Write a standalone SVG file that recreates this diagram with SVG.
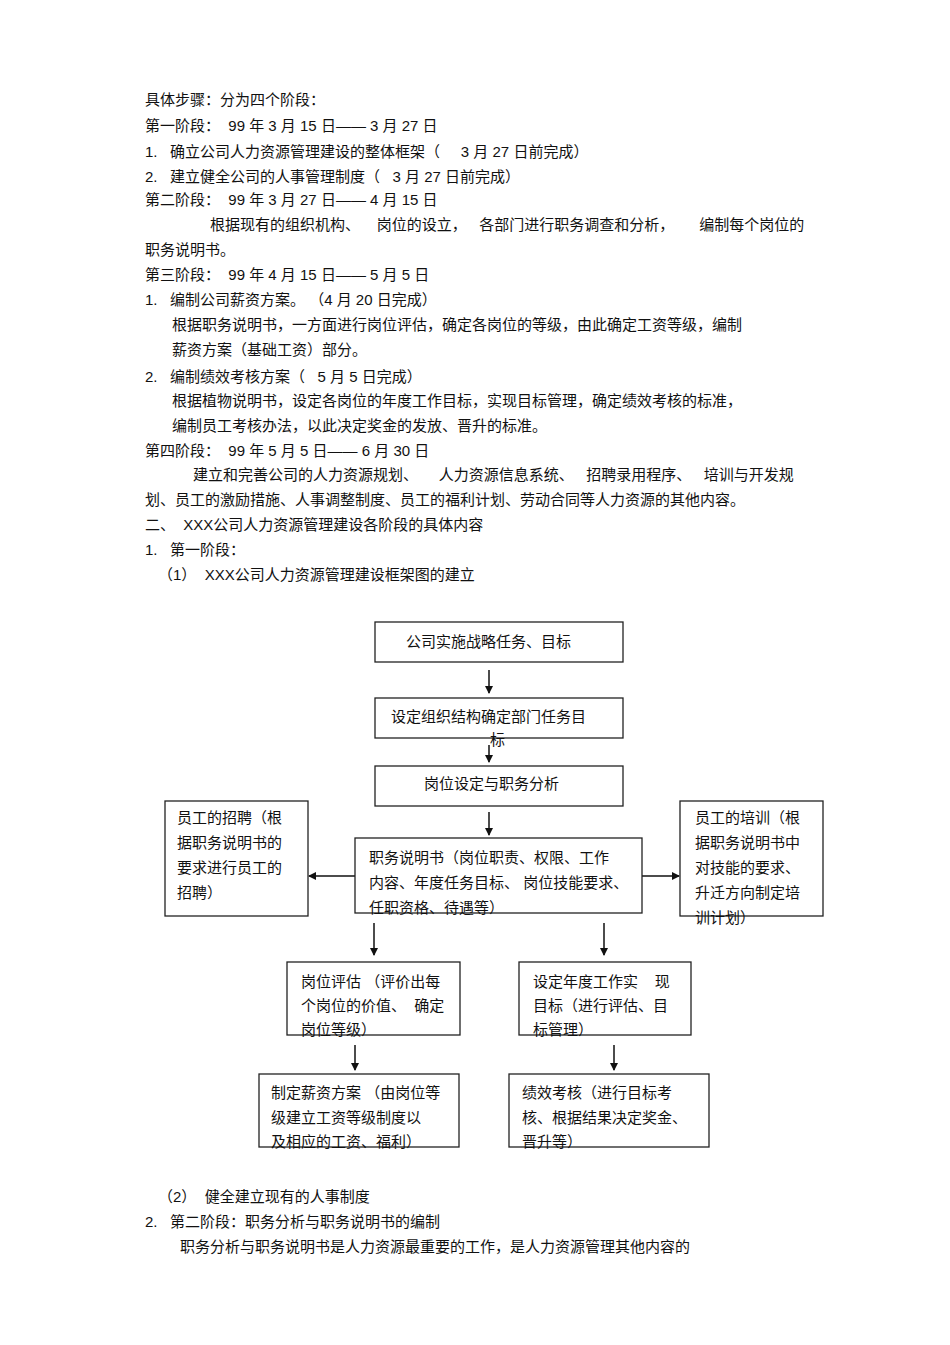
<svg xmlns="http://www.w3.org/2000/svg" width="950" height="1345" viewBox="0 0 950 1345" xml:space="preserve">
<defs>
<style>
text{font-family:"Liberation Sans","Noto Sans CJK SC",sans-serif;font-size:15px;fill:#111;white-space:pre}
.b{fill:#fff;stroke:#222;stroke-width:1.3}
.c line{stroke:#111;stroke-width:1.5}
</style>
<marker id="a" markerWidth="8" markerHeight="8" refX="7" refY="4" orient="auto" markerUnits="userSpaceOnUse"><path d="M0,0 L8,4 L0,8 Z" fill="#111"/></marker>
</defs>
<rect width="950" height="1345" fill="#fff"/>
<g id="body">
<text x="145" y="105">具体步骤：分为四个阶段：</text>
<text x="145" y="131">第一阶段：  99 年 3 月 15 日—— 3 月 27 日</text>
<text x="145" y="157">1.   确立公司人力资源管理建设的整体框架（     3 月 27 日前完成）</text>
<text x="145" y="182">2.   建立健全公司的人事管理制度（   3 月 27 日前完成）</text>
<text x="145" y="205">第二阶段：  99 年 3 月 27 日—— 4 月 15 日</text>
<text x="210" y="230">根据现有的组织机构、    岗位的设立，   各部门进行职务调查和分析，      编制每个岗位的</text>
<text x="145" y="255">职务说明书。</text>
<text x="145" y="280">第三阶段：  99 年 4 月 15 日—— 5 月 5 日</text>
<text x="145" y="305">1.   编制公司薪资方案。 （4 月 20 日完成）</text>
<text x="172" y="330">根据职务说明书，一方面进行岗位评估，确定各岗位的等级，由此确定工资等级，编制</text>
<text x="172" y="355">薪资方案（基础工资）部分。</text>
<text x="145" y="382">2.   编制绩效考核方案（   5 月 5 日完成）</text>
<text x="172" y="406">根据植物说明书，设定各岗位的年度工作目标，实现目标管理，确定绩效考核的标准，</text>
<text x="172" y="431">编制员工考核办法，以此决定奖金的发放、晋升的标准。</text>
<text x="145" y="456">第四阶段：  99 年 5 月 5 日—— 6 月 30 日</text>
<text x="193" y="480">建立和完善公司的人力资源规划、     人力资源信息系统、   招聘录用程序、   培训与开发规</text>
<text x="145" y="505">划、员工的激励措施、人事调整制度、员工的福利计划、劳动合同等人力资源的其他内容。</text>
<text x="145" y="530">二、  XXX公司人力资源管理建设各阶段的具体内容</text>
<text x="145" y="555">1.   第一阶段：</text>
<text x="158" y="580">（1）  XXX公司人力资源管理建设框架图的建立</text>
<text x="158" y="1202">（2）  健全建立现有的人事制度</text>
<text x="145" y="1227">2.   第二阶段：职务分析与职务说明书的编制</text>
<text x="180" y="1252">职务分析与职务说明书是人力资源最重要的工作，是人力资源管理其他内容的</text>
</g>
<g id="connectors" class="c">
<line x1="489" y1="670" x2="489" y2="693" marker-end="url(#a)"/>
<line x1="489" y1="745" x2="489" y2="762" marker-end="url(#a)"/>
<line x1="489" y1="812" x2="489" y2="835" marker-end="url(#a)"/>
<line x1="355" y1="876" x2="309" y2="876" marker-end="url(#a)"/>
<line x1="642" y1="876" x2="679" y2="876" marker-end="url(#a)"/>
<line x1="374" y1="923" x2="374" y2="955" marker-end="url(#a)"/>
<line x1="604" y1="923" x2="604" y2="955" marker-end="url(#a)"/>
<line x1="355" y1="1045" x2="355" y2="1070" marker-end="url(#a)"/>
<line x1="614" y1="1045" x2="614" y2="1070" marker-end="url(#a)"/>
</g>
<g id="n1"><rect class="b" x="375" y="622" width="248" height="40"/><text x="406" y="647">公司实施战略任务、目标</text></g>
<g id="n2"><rect class="b" x="375" y="698" width="248" height="40"/><text x="391" y="722">设定组织结构确定部门任务目</text><text x="490" y="745">标</text></g>
<g id="n3"><rect class="b" x="375" y="766" width="248" height="40"/><text x="424" y="789">岗位设定与职务分析</text></g>
<g id="n4"><rect class="b" x="355" y="838" width="287" height="75"/><text x="369" y="863">职务说明书（岗位职责、权限、工作</text><text x="369" y="888">内容、年度任务目标、 岗位技能要求、</text><text x="369" y="913">任职资格、待遇等）</text></g>
<g id="n5"><rect class="b" x="165" y="801" width="143" height="115"/><text x="177" y="823">员工的招聘（根</text><text x="177" y="848">据职务说明书的</text><text x="177" y="873">要求进行员工的</text><text x="177" y="898">招聘）</text></g>
<g id="n6"><rect class="b" x="680" y="801" width="143" height="115"/><text x="695" y="823">员工的培训（根</text><text x="695" y="848">据职务说明书中</text><text x="695" y="873">对技能的要求、</text><text x="695" y="898">升迁方向制定培</text><text x="695" y="923">训计划）</text></g>
<g id="n7"><rect class="b" x="287" y="962" width="173" height="73"/><text x="301" y="987">岗位评估 （评价出每</text><text x="301" y="1011">个岗位的价值、  确定</text><text x="301" y="1035">岗位等级）</text></g>
<g id="n8"><rect class="b" x="519" y="962" width="172" height="73"/><text x="533" y="987">设定年度工作实    现</text><text x="533" y="1011">目标（进行评估、目</text><text x="533" y="1035">标管理）</text></g>
<g id="n9"><rect class="b" x="259" y="1074" width="200" height="73"/><text x="271" y="1098">制定薪资方案 （由岗位等</text><text x="271" y="1123">级建立工资等级制度以</text><text x="271" y="1147">及相应的工资、福利）</text></g>
<g id="n10"><rect class="b" x="509" y="1074" width="200" height="73"/><text x="522" y="1098">绩效考核（进行目标考</text><text x="522" y="1123">核、根据结果决定奖金、</text><text x="522" y="1147">晋升等）</text></g>
</svg>
